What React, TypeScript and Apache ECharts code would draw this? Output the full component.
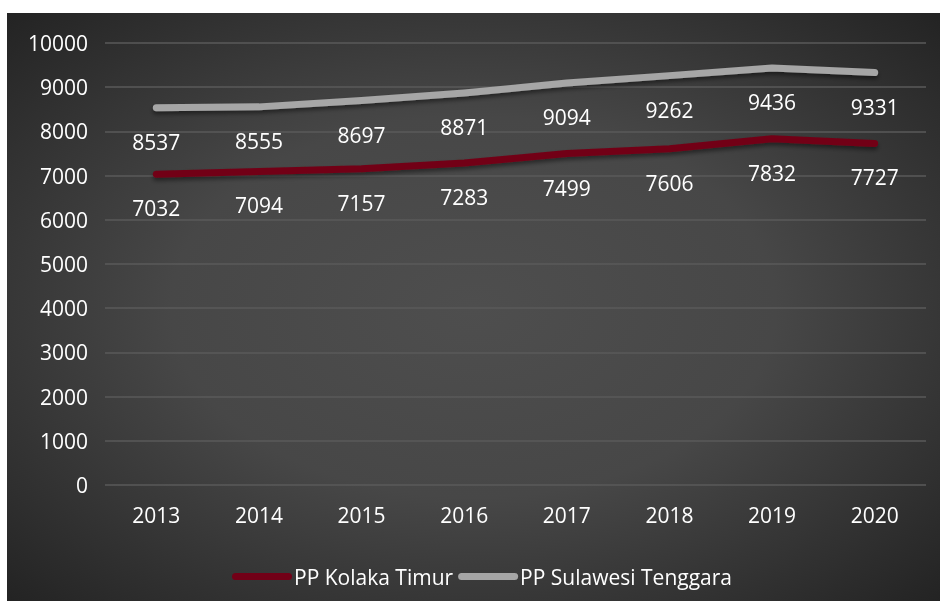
import React, { useEffect, useRef } from "react";
import * as echarts from "echarts";

const years = ["2013", "2014", "2015", "2016", "2017", "2018", "2019", "2020"];
const kolakaTimur = [7032, 7094, 7157, 7283, 7499, 7606, 7832, 7727];
const sulawesiTenggara = [8537, 8555, 8697, 8871, 9094, 9262, 9436, 9331];
const seriesNames = ["PP Kolaka Timur", "PP Sulawesi Tenggara"];
const seriesColors = ["#720017", "#a6a6a6"];

const FONT = "'Open Sans', 'Noto Sans', sans-serif";
const legendIcon = "path://M3.5,0 H56.5 A3.5,3.5 0 0 1 56.5,7 H3.5 A3.5,3.5 0 0 1 3.5,0 Z";

export default function App() {
  const ref = useRef<HTMLDivElement>(null);
  useEffect(() => {
    if (!ref.current) return;
    const chart = echarts.init(ref.current, undefined, { renderer: "svg" });
    const mkSeries = (name: string, data: number[], color: string) => ({
      name,
      type: "line",
      data,
      symbol: "circle",
      symbolSize: 1,
      itemStyle: { color, opacity: 0 },
      lineStyle: {
        color,
        width: 7,
        cap: "round",
        join: "round",
        shadowColor: "rgba(0,0,0,0.45)",
        shadowBlur: 4,
        shadowOffsetY: 3,
      },
      label: {
        show: true,
        position: "bottom",
        distance: 23,
        color: "#ffffff",
        fontSize: 21,
        fontFamily: FONT,
        opacity: 1,
      },
      emphasis: { disabled: true },
    });
    chart.setOption({
      animation: false,
      backgroundColor: {
        type: "radial",
        x: 0.5,
        y: 0.5,
        r: 0.72,
        colorStops: [
          { offset: 0, color: "#4e4e4e" },
          { offset: 0.45, color: "#474747" },
          { offset: 1, color: "#222222" },
        ],
      },
      textStyle: { fontFamily: FONT },
      grid: { left: 98, right: 14, top: 30, bottom: 116, containLabel: false },
      legend: {
        top: 548,
        left: 220,
        itemWidth: 60,
        itemHeight: 7,
        itemGap: 5,
        icon: legendIcon,
        textStyle: { color: "#ffffff", fontSize: 21, fontFamily: FONT, padding: [0, 0, 0, -3] },
        data: seriesNames.map((n, i) => ({
          name: n,
          itemStyle: { color: seriesColors[i], opacity: 1 },
        })),
      },
      xAxis: {
        type: "category",
        data: years,
        boundaryGap: true,
        axisLine: { show: false },
        axisTick: { show: false },
        axisLabel: { color: "#ffffff", fontSize: 21, fontFamily: FONT, margin: 19 },
      },
      yAxis: {
        type: "value",
        min: 0,
        max: 10000,
        interval: 1000,
        axisLine: { show: false },
        axisTick: { show: false },
        axisLabel: {
          color: "#ffffff",
          fontSize: 21,
          fontFamily: FONT,
          margin: 17,
          formatter: (v: number) => String(v),
        },
        splitLine: { lineStyle: { color: "#5a5a5a", width: 1.5 } },
      },
      series: [
        mkSeries(seriesNames[0], kolakaTimur, seriesColors[0]),
        mkSeries(seriesNames[1], sulawesiTenggara, seriesColors[1]),
      ],
    });
    return () => chart.dispose();
  }, []);
  return (
    <div
      ref={ref}
      style={{ position: "fixed", left: 7, top: 13, width: 933, height: 588 }}
    />
  );
}
